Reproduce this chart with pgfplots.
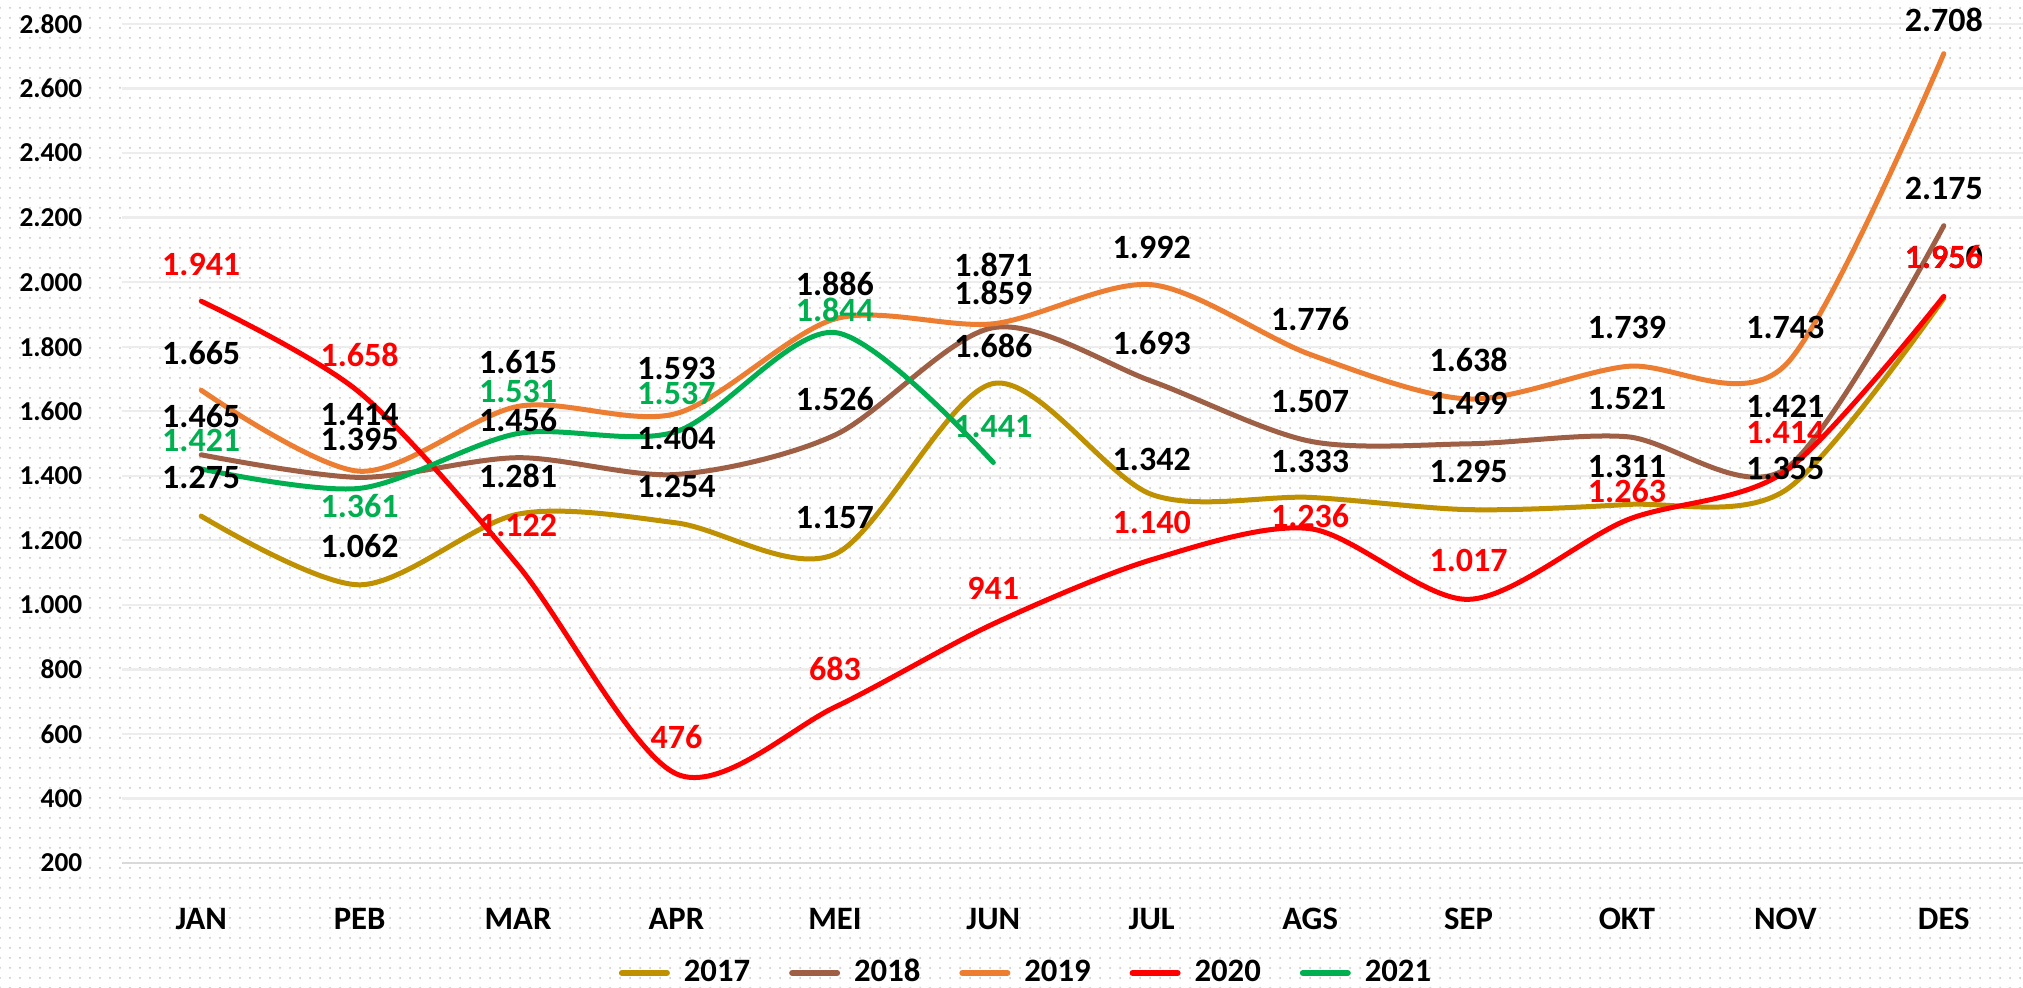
\documentclass[border=0pt]{standalone}
\usepackage{pgfplots}
\pgfplotsset{compat=1.18}
\usepackage{pgfplotstable}
\usepackage{fontspec}
\setmainfont{Carlito}
\usetikzlibrary{patterns.meta}

\definecolor{c17}{HTML}{BF9000}
\definecolor{c18}{HTML}{9E5F45}
\definecolor{c19}{HTML}{ED7D31}
\definecolor{c20}{HTML}{FF0000}
\definecolor{c21}{HTML}{00B050}
\definecolor{gridc}{HTML}{EDEDED}
\definecolor{axc}{HTML}{D9D9D9}
\definecolor{dotc}{HTML}{C4C4C4}

\tikzdeclarepattern{
  name=bgdots,
  type=uncolored,
  bottom left={(-1.5pt,-1.5pt)},
  top right={(1.5pt,1.5pt)},
  tile size={(3pt,3pt)},
  code={\pgfpathcircle{\pgfpointorigin}{0.3pt}\pgfusepath{fill}}
}

\newcommand\lf{\fontsize{10.2pt}{12pt}\selectfont\bfseries}
\newcommand\xf{\fontsize{9.8pt}{12pt}\selectfont\bfseries}
\newcommand\yf{\fontsize{8.2pt}{10pt}\selectfont\bfseries}
\newcommand\gf{\fontsize{9.8pt}{12pt}\selectfont\bfseries}

\pgfplotsset{
  /pgf/number format/assume math mode=true,
  lab/.style={draw=none, mark=none, forget plot,
    point meta=explicit,
    nodes near coords={\pgfmathprintnumber[fixed,precision=0,1000 sep={.}]{\pgfplotspointmeta}},
    nodes near coords style={anchor=center, font=\lf, text=#1, inner sep=0pt}},
  ln/.style={draw=#1, line width=1.5pt, smooth, mark=none, line cap=round}
}

% x  value  label-position
\pgfplotstableread{
x y ly
0 1275 1395
1 1062 1182
2 1281 1400
3 1254 1366
4 1157 1270
5 1686 1802
6 1342 1452
7 1333 1445
8 1295 1414
9 1311 1428
10 1355 1422
11 1950 2077
}\dA
\pgfplotstableread{
x y ly
0 1465 1585
1 1395 1513
2 1456 1574
3 1404 1515
4 1526 1637
5 1859 1967
6 1693 1812
7 1507 1630
8 1499 1624
9 1521 1638
10 1421 1614
11 2175 2291
}\dB
\pgfplotstableread{
x y ly
0 1665 1779
1 1414 1590
2 1615 1751
3 1593 1732
4 1886 1996
5 1871 2052
6 1992 2109
7 1776 1887
8 1638 1759
9 1739 1859
10 1743 1859
11 2708 2812
}\dC
\pgfplotstableread{
x y ly
0 1941 2056
1 1658 1776
2 1122 1245
3 476 589
4 683 800
5 941 1052
6 1140 1255
7 1236 1276
8 1017 1139
9 1263 1353
10 1414 1534
11 1956 2077
}\dD
\pgfplotstableread{
x y ly
0 1421 1508
1 1361 1307
2 1531 1662
3 1537 1656
4 1844 1915
5 1441 1553
}\dE

\begin{document}
\begin{tikzpicture}
\fill[white] (-36.6pt,-37.5pt) rectangle (570.3pt,258.9pt);
\fill[pattern={bgdots}, pattern color=dotc] (-36.6pt,-37.5pt) rectangle (570.3pt,258.9pt);
\begin{axis}[
  at={(0,0)}, anchor=south west,
  scale only axis, width=570.3pt, height=251.7pt,
  xmin=-0.5, xmax=11.5, ymin=200, ymax=2800,
  xtick={0,...,11},
  xticklabels={JAN,PEB,MAR,APR,MEI,JUN,JUL,AGS,SEP,OKT,NOV,DES},
  ytick={200,400,...,2800},
  yticklabel style={font=\yf, xshift=-8.4pt, /pgf/number format/fixed, /pgf/number format/precision=0, /pgf/number format/1000 sep={.}},
  ymajorgrids, major grid style={draw=gridc, line width=0.7pt},
  axis line style={draw=none},
  major tick length=0pt,
  clip=false,
  xticklabel style={font=\xf, yshift=-10pt},
  legend style={at={(0.475,-0.131)}, anchor=center, draw=none, fill=none,
    font=\gf, legend columns=-1, inner sep=0pt,
    nodes={inner sep=0pt},
    /tikz/every odd column/.append style={column sep=4.2pt},
    /tikz/every even column/.append style={column sep=11.7pt}},
  legend image code/.code={\draw[#1, line width=1.8pt, line cap=round] (0.9pt,0pt) -- (14.4pt,0pt);},
]
\draw[axc, line width=0.8pt] (rel axis cs:0,0) -- (rel axis cs:1,0);
\addplot[ln=c17] table[x=x,y=y]{\dA}; \addlegendentry{2017}
\addplot[ln=c18] table[x=x,y=y]{\dB}; \addlegendentry{2018}
\addplot[ln=c19] table[x=x,y=y]{\dC}; \addlegendentry{2019}
\addplot[ln=c20] table[x=x,y=y]{\dD}; \addlegendentry{2020}
\addplot[ln=c21] table[x=x,y=y]{\dE}; \addlegendentry{2021}

\addplot[lab=black] table[x=x,y=ly,meta=y]{\dA};
\addplot[lab=black] table[x=x,y=ly,meta=y]{\dB};
\addplot[lab=black] table[x=x,y=ly,meta=y]{\dC};
\addplot[lab=c20] table[x=x,y=ly,meta=y]{\dD};
\addplot[lab=c21] table[x=x,y=ly,meta=y]{\dE};
\end{axis}
\pgfresetboundingbox
\path (-36.6pt,-37.5pt) rectangle (570.3pt,258.9pt);
\end{tikzpicture}
\end{document}
